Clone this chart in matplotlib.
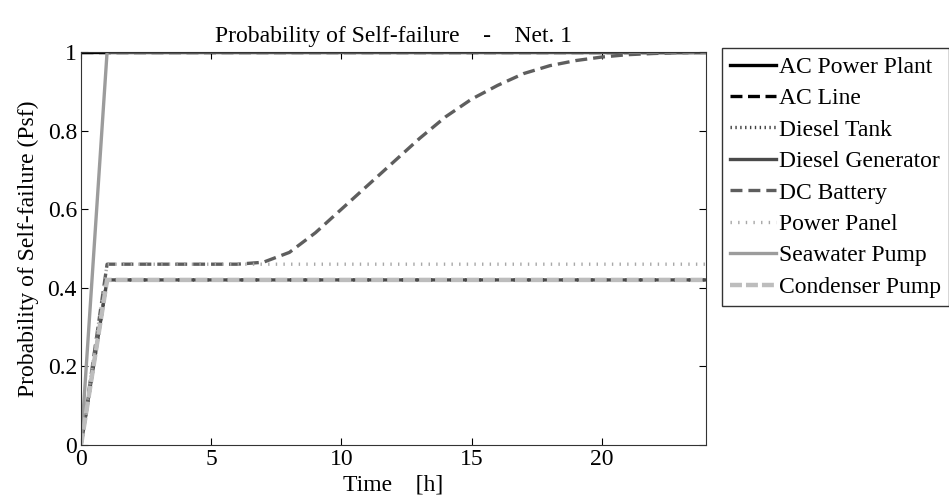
import matplotlib
matplotlib.use("Agg")
import matplotlib.pyplot as plt
import numpy as np

# time axis, hours
TIME_H = list(range(0, 25))

# probability of self-failure per component, one value per hour
AC_POWER_PLANT = [1.0] * 25
AC_LINE = [1.0] * 25
DIESEL_TANK = [0.0] + [0.42] * 24
DIESEL_GENERATOR = [0.0] + [0.42] * 24
DC_BATTERY = [0.0, 0.46, 0.46, 0.46, 0.46, 0.46, 0.46, 0.465, 0.49, 0.54,
              0.60, 0.66, 0.72, 0.78, 0.835, 0.88, 0.915, 0.945, 0.965,
              0.978, 0.987, 0.993, 0.996, 0.998, 0.999]
POWER_PANEL = [0.0] + [0.46] * 24
SEAWATER_PUMP = [0.0] + [1.0] * 24
CONDENSER_PUMP = [0.0] + [0.42] * 24

# (name, values, colour, dash pattern in points; None = solid, line width)
SERIES = [
    ("AC Power Plant", AC_POWER_PLANT, "#000000", None, 2.4),
    ("AC Line", AC_LINE, "#000000", (8.6, 4.0), 2.4),
    ("Diesel Tank", DIESEL_TANK, "#404040", (1.0, 2.5), 2.4),
    ("Diesel Generator", DIESEL_GENERATOR, "#4a4a4a", None, 2.4),
    ("DC Battery", DC_BATTERY, "#5e5e5e", (8.6, 4.3), 2.4),
    ("Power Panel", POWER_PANEL, "#a8a8a8", (1.0, 4.5), 2.4),
    ("Seawater Pump", SEAWATER_PUMP, "#9c9c9c", None, 2.4),
    ("Condenser Pump", CONDENSER_PUMP, "#bdbdbd", (8.6, 2.9), 3.2),
]

plt.rcParams["font.family"] = ["Liberation Serif", "DejaVu Serif"]
plt.rcParams["lines.scale_dashes"] = False

FS = 17

fig = plt.figure(figsize=(9.49, 5.04), dpi=100)
ax = fig.add_axes([0.0854, 0.117, 0.6586, 0.780])

t = np.asarray(TIME_H, dtype=float)
for name, vals, color, dashes, lw in SERIES:
    line, = ax.plot(t, vals, color=color, linewidth=lw, label=name)
    if dashes is not None:
        line.set_dashes(dashes)

ax.set_xlim(0, 24)
ax.set_ylim(0, 1)
ax.set_xticks([0, 5, 10, 15, 20])
ax.set_yticks([0, 0.2, 0.4, 0.6, 0.8, 1.0])
ax.set_yticklabels(["0", "0.2", "0.4", "0.6", "0.8", "1"])
ax.tick_params(direction="in", top=True, right=True, labelsize=FS, length=5, pad=3)
for sp in ax.spines.values():
    sp.set_color("#333333")

ax.set_title("Probability of Self-failure    -    Net. 1", fontsize=FS, pad=7)
ax.set_xlabel("Time    [h]", fontsize=FS, labelpad=3)
ax.set_ylabel("Probability of Self-failure (Psf)", fontsize=FS, labelpad=6)

leg = ax.legend(loc="upper left", bbox_to_anchor=(1.0256, 1.010), borderaxespad=0,
                fontsize=FS, frameon=True, fancybox=False, edgecolor="black",
                handlelength=1.95, handletextpad=0.12, labelspacing=0.42,
                borderpad=0.35)
leg.get_frame().set_linewidth(1.0)

fig.savefig("out.png", dpi=100)
